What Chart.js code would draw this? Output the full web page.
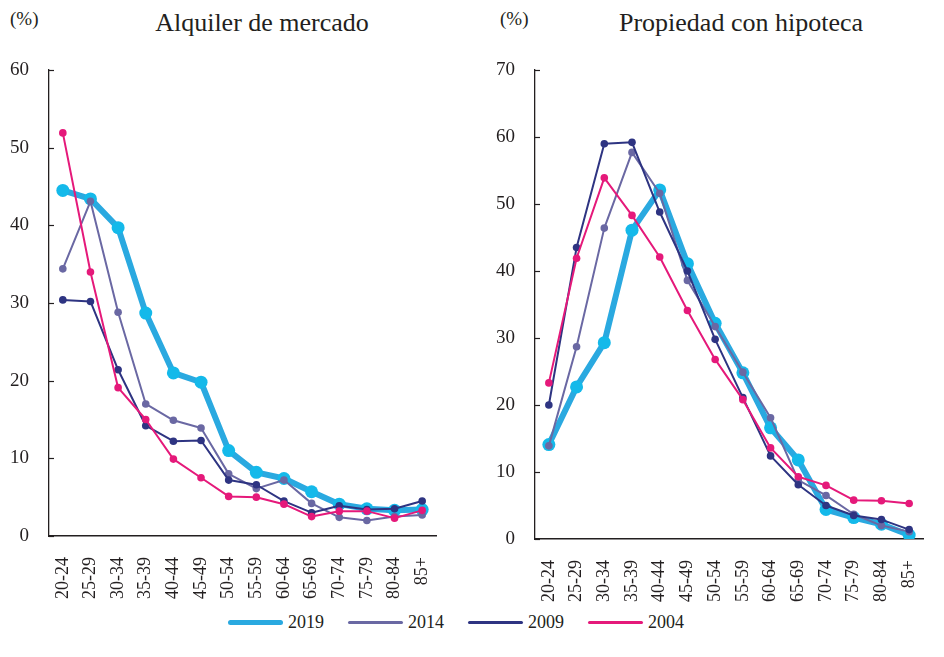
<!DOCTYPE html>
<html>
<head>
<meta charset="utf-8">
<script src="https://cdn.jsdelivr.net/npm/chart.js@4"></script>
<style>
  body { margin: 0; background: #fff; width: 944px; height: 657px; position: relative; overflow: hidden; font-family: 'Liberation Serif', serif; color: #231f20; }
  canvas { position: absolute; top: 0; }
  .title { position: absolute; top: 8px; font-size: 26px; white-space: nowrap; transform: translateX(-50%); }
  .unit { position: absolute; top: 8px; font-size: 19px; }
  .legend { position: absolute; top: 612px; left: 228px; display: flex; align-items: center; font-size: 18px; }
  .legend-item { display: flex; align-items: center; margin-right: 24px; }
  .legend-line { width: 55px; margin-right: 5px; border-radius: 3px; }
</style>
</head>
<body>
<div class="unit" style="left:10px">(%)</div>
<div class="unit" style="left:500px">(%)</div>
<div class="title" style="left:262px">Alquiler de mercado</div>
<div class="title" style="left:741px">Propiedad con hipoteca</div>
<canvas id="alquiler" width="470" height="610" style="left:0"></canvas>
<canvas id="hipoteca" width="474" height="610" style="left:470px"></canvas>
<div class="legend" id="legend"></div>

<script>
const ageGroups = ['20-24', '25-29', '30-34', '35-39', '40-44', '45-49', '50-54',
  '55-59', '60-64', '65-69', '70-74', '75-79', '80-84', '85+'];
const years = ['2019', '2014', '2009', '2004'];

// Alquiler de mercado (%)
const alquiler2019 = [44.5, 43.4, 39.7, 28.7, 21.0, 19.8, 11.0, 8.2, 7.4, 5.7, 4.1, 3.5, 3.3, 3.4];
const alquiler2014 = [34.4, 43.1, 28.8, 17.0, 14.9, 13.9, 8.0, 6.1, 7.2, 4.2, 2.4, 2.0, 2.5, 2.7];
const alquiler2009 = [30.4, 30.2, 21.4, 14.2, 12.2, 12.3, 7.2, 6.6, 4.5, 3.0, 3.9, 3.4, 3.5, 4.5];
const alquiler2004 = [51.9, 34.0, 19.1, 15.0, 9.9, 7.5, 5.1, 5.0, 4.1, 2.5, 3.2, 3.2, 2.3, 3.3];

// Propiedad con hipoteca (%)
const hipoteca2019 = [14.1, 22.7, 29.3, 46.1, 52.1, 41.1, 32.2, 24.8, 16.6, 11.8, 4.4, 3.2, 2.2, 0.6];
const hipoteca2014 = [13.9, 28.7, 46.4, 57.7, 51.6, 38.6, 31.7, 24.9, 18.1, 8.8, 6.5, 3.7, 2.0, 1.1];
const hipoteca2009 = [20.0, 43.5, 59.0, 59.2, 48.8, 40.0, 29.8, 21.1, 12.4, 8.1, 5.0, 3.5, 2.9, 1.4];
const hipoteca2004 = [23.3, 41.9, 53.9, 48.3, 42.1, 34.1, 26.8, 20.8, 13.6, 9.3, 8.0, 5.8, 5.7, 5.3];

const alquilerMax = 60;
const hipotecaMax = 70;

const lineColors = ['#2aa9e0', '#6a68a3', '#2e3482', '#e5197a'];
const pointColors = ['#14b9ea', '#6a68a3', '#2e3482', '#e5197a'];
const axisColor = '#231f20';
const serif = "'Liberation Serif', 'DejaVu Serif', serif";

const innerTicks = {
  id: 'innerTicks',
  beforeDatasetsDraw(chart) {
    const y = chart.scales.y;
    const ctx = chart.ctx;
    ctx.save();
    ctx.strokeStyle = axisColor;
    ctx.lineWidth = 1.2;
    y.ticks.forEach(t => {
      const py = Math.round(y.getPixelForValue(t.value)) + 0.5;
      ctx.beginPath();
      ctx.moveTo(y.right, py);
      ctx.lineTo(y.right + 5, py);
      ctx.stroke();
    });
    ctx.restore();
  }
};

function makeDatasets(series) {
  return series.map((data, i) => {
    const big = i === 0;
    return {
      label: years[i],
      data: data,
      borderColor: lineColors[i],
      backgroundColor: pointColors[i],
      pointBackgroundColor: pointColors[i],
      pointBorderWidth: 0,
      pointRadius: big ? 6.5 : 3.8,
      borderWidth: big ? 6 : 2,
      borderJoinStyle: 'round',
      borderCapStyle: 'round',
      fill: false,
      tension: 0,
      order: 4 - i
    };
  });
}

function makeChart(id, series, yMax, yWidth, padRight, xHeight) {
  return new Chart(document.getElementById(id), {
    type: 'line',
    data: { labels: ageGroups, datasets: makeDatasets(series) },
    options: {
      responsive: false,
      animation: false,
      devicePixelRatio: 1,
      layout: { padding: { top: 70, right: padRight, bottom: 0, left: 0 } },
      plugins: { legend: { display: false }, tooltip: { enabled: false } },
      scales: {
        x: {
          offset: true,
          grid: { display: false },
          border: { display: true, color: axisColor, width: 1.6 },
          ticks: {
            color: axisColor,
            font: { family: serif, size: 18 },
            minRotation: 90,
            maxRotation: 90,
            padding: 13,
            autoSkip: false
          },
          afterFit(scale) { scale.height = xHeight; }
        },
        y: {
          min: 0,
          max: yMax,
          grid: { display: false },
          border: { display: true, color: axisColor, width: 1.3 },
          ticks: {
            stepSize: 10,
            color: axisColor,
            padding: 12,
            font: { family: serif, size: 19 }
          },
          afterFit(scale) { scale.width = yWidth; }
        }
      }
    },
    plugins: [innerTicks]
  });
}

function draw() {
  makeChart('alquiler', [alquiler2019, alquiler2014, alquiler2009, alquiler2004], alquilerMax, 49, 34, 74);
  makeChart('hipoteca', [hipoteca2019, hipoteca2014, hipoteca2009, hipoteca2004], hipotecaMax, 65, 7, 71);
}

// legend
const legend = document.getElementById('legend');
years.forEach((yr, i) => {
  const item = document.createElement('div');
  item.className = 'legend-item';
  const line = document.createElement('div');
  line.className = 'legend-line';
  line.style.height = i === 0 ? '5px' : '2.5px';
  line.style.background = lineColors[i];
  const txt = document.createElement('span');
  txt.textContent = yr;
  item.appendChild(line);
  item.appendChild(txt);
  legend.appendChild(item);
});

Promise.all([
  document.fonts.load('18px "Liberation Serif"'),
  document.fonts.load('26px "Liberation Serif"')
]).then(draw, draw);
</script>
</body>
</html>
